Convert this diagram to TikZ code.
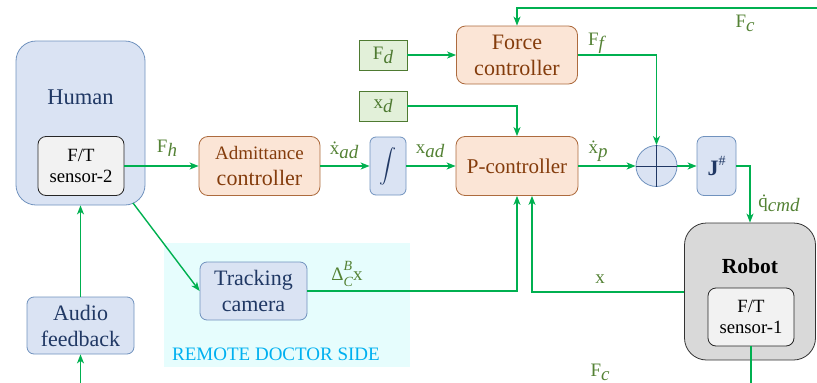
\documentclass[tikz,border=0pt]{standalone}
\usepackage{fontspec}
\newfontfamily\mainf{Liberation Serif}
\usetikzlibrary{arrows.meta,calc}

\definecolor{bfill}{HTML}{DAE3F3}
\definecolor{bdraw}{HTML}{7092BE}
\definecolor{btext}{HTML}{203864}
\definecolor{ofill}{HTML}{FBE5D6}
\definecolor{odraw}{HTML}{AD6B3E}
\definecolor{otext}{HTML}{843C0C}
\definecolor{gfill}{HTML}{E2F0D9}
\definecolor{gdraw}{HTML}{4E7A31}
\definecolor{gtext}{HTML}{548235}
\definecolor{sig}{HTML}{00B050}
\definecolor{rfill}{HTML}{D9D9D9}
\definecolor{sfill}{HTML}{F2F2F2}
\definecolor{zone}{HTML}{E6FDFD}
\definecolor{zonetext}{HTML}{00B0F0}

% font at a given size, in Liberation Serif
\newcommand{\fsz}[1]{\mainf\fontsize{#1}{#1}\selectfont}
% label helper: upright symbol with italic subscript
\newcommand{\sbs}[2]{#1\raisebox{-0.22em}{\itshape #2}}

\tikzset{
  blk/.style={draw=bdraw, fill=bfill, text=btext, line width=0.8pt, rounded corners=7pt,
    align=center, inner sep=0pt, font=\fsz{22}},
  oblk/.style={draw=odraw, fill=ofill, text=otext, line width=0.8pt, rounded corners=9pt,
    align=center, inner sep=0pt, font=\fsz{22}},
  gblk/.style={draw=gdraw, fill=gfill, text=gdraw, line width=0.8pt,
    inner sep=0pt, font=\fsz{19}},
  senblk/.style={draw=black!85, fill=sfill, text=black, line width=0.8pt, rounded corners=8pt,
    align=center, inner sep=0pt, font=\fsz{18.7}},
  wire/.style={draw=sig, line width=1.4pt},
  arr/.style={wire, -{Stealth[length=9pt,width=7pt,inset=2.5pt]}},
  lbl/.style={text=gtext, inner sep=0pt, font=\fsz{19}},
}

\begin{document}
\begin{tikzpicture}[x=1pt,y=-1pt]
\useasboundingbox (0,0) rectangle (817,383);

% remote side zone
\fill[zone] (164,243) rectangle (410,367);
\node[text=zonetext, font=\fsz{19}, inner sep=0pt] (zonelbl) at (276,354) {REMOTE DOCTOR SIDE};

% human side
\node[blk, rounded corners=20pt, minimum width=129pt, minimum height=164pt] (human) at (80.5,123) {};
\node[text=btext, font=\fsz{22.5}, inner sep=0pt] (humanlbl) at (80.5,97) {Human};
\node[senblk, minimum width=86pt, minimum height=59pt] (sens2) at (81,166) {F/T\\[3pt]sensor-2};
\node[blk, minimum width=107pt, minimum height=57pt] (audio) at (80.5,325.5) {Audio\\[4pt]feedback};
\node[blk, minimum width=107pt, minimum height=58pt] (track) at (253.5,291) {Tracking\\[4pt]camera};

% controllers
\node[oblk, minimum width=121pt, minimum height=59pt] (admit) at (259.5,166)
  {{\fsz{19}Admittance}\\[4pt]controller};
\node[blk, rounded corners=6pt, minimum width=36pt, minimum height=58pt] (integ) at (388,166)
  {\scalebox{1.7}{$\displaystyle\int$}};
\node[oblk, minimum width=122pt, minimum height=59pt, font=\fsz{21}] (pctrl) at (517,166) {P-controller};
\node[oblk, minimum width=121pt, minimum height=58pt] (force) at (517,55) {Force\\[4pt]controller};
\node[gblk, minimum width=48pt, minimum height=30pt] (fd) at (383,55) {\sbs{F}{d}};
\node[gblk, minimum width=48pt, minimum height=30pt] (xd) at (383,106) {\sbs{x}{d}};
\node[circle, draw=bdraw, fill=bfill, line width=0.8pt, minimum size=41pt, inner sep=0pt] (sum) at (656.5,166) {};
\draw[btext, line width=0.8pt] (sum.north) -- (sum.south) (sum.west) -- (sum.east);
\node[blk, minimum width=39pt, minimum height=59pt, font=\fsz{22}] (jac) at (716.5,166)
  {\textbf{J}\raisebox{0.45em}{\fsz{14}\#}};

% robot
\node[draw=black!80, fill=rfill, line width=0.8pt, rounded corners=22pt, minimum width=131pt, minimum height=137pt] (robot) at (750,291.5) {};
\node[font=\fsz{21.5}\bfseries, inner sep=0pt] (robotlbl) at (750,266) {Robot};
\node[senblk, minimum width=86pt, minimum height=58pt] (sens1) at (751,317) {F/T\\[3pt]sensor-1};

% free ends
\coordinate (fcin) at (817,8);
\coordinate (fcout) at (751,383);
\coordinate (audin) at (80.5,383);
\coordinate (hcorner) at (133,203);

% signal flow
\draw[arr] (sens2.east) -- (admit.west);
\draw[arr] (admit.east) -- (integ.west);
\draw[arr] (integ.east) -- (pctrl.west);
\draw[arr] (fd.east) -- (force.west);
\draw[arr] (xd.east) -| (pctrl.north);
\draw[arr] (fcin) -| (force.north);
\draw[arr] (force.east) -| (sum.north);
\draw[arr] (pctrl.east) -- (sum.west);
\draw[arr] (sum.east) -- (jac.west);
\draw[arr] (jac.east) -| (robot.north);
\draw[arr] (robot.west |- 0,292) -| ($(pctrl.south)+(15,0)$);
\draw[arr, line width=1.1pt] (track.east) -| (pctrl.south);
\draw[wire] (sens1.south) -- (fcout);
\draw[arr] (hcorner) -- (track.west);
\draw[arr] (audio.north) -- (human.south);
\draw[arr] (audin) -- (audio.south);

% signal labels
\node[lbl] (lfh) at (167,148) {\sbs{F}{h}};
\node[lbl] (lxad1) at (344,150) {\sbs{\.x}{ad}};
\node[lbl] (lxad2) at (430,151) {\sbs{x}{ad}};
\node[lbl] (lff) at (596,43) {\sbs{F}{f}};
\node[lbl] (lxp) at (598,151) {\sbs{\.x}{p}};
\node[lbl] (lfc1) at (745,23) {\sbs{F}{c}};
\node[lbl] (lfc2) at (600,372) {\sbs{F}{c}};
\node[lbl] (lq) at (779,203) {\sbs{\.q}{cmd}};
\node[lbl] (lx) at (600,279) {x};
\node[lbl] (ldelta) at (347,274) {Δ\rlap{\raisebox{0.5em}{\itshape\fsz{14}\itshape B}}\raisebox{-0.3em}{\fsz{14}\itshape C}x};
\end{tikzpicture}
\end{document}
